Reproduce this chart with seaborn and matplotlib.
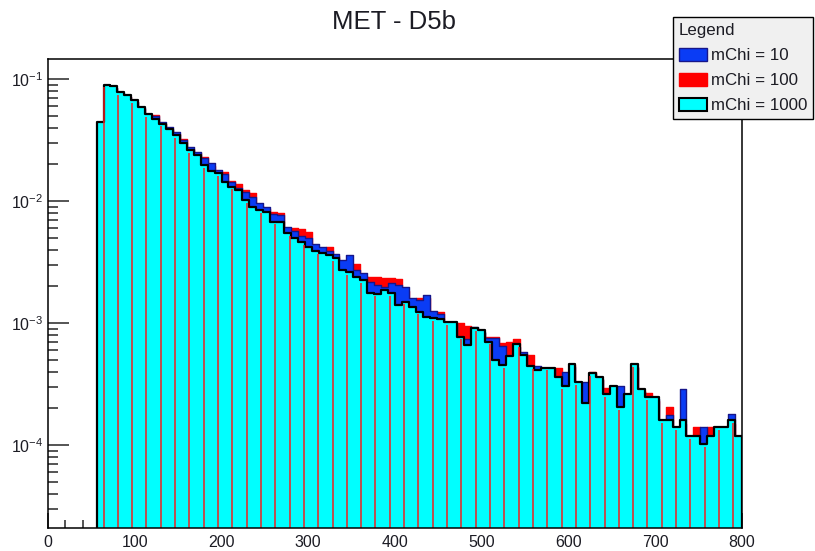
import numpy as np
import matplotlib
matplotlib.use("Agg")
import matplotlib.pyplot as plt
import seaborn as sns
from matplotlib.patches import Patch
from matplotlib.ticker import FixedLocator, NullFormatter, FuncFormatter

# ---- histogram data: MET, 8 GeV bins from 56 to 800 ----
bin_edges = list(range(56, 801, 8))
met_centers = [e + 4 for e in bin_edges[:-1]]

mchi10 = [
    0.0431, 0.0871, 0.0850, 0.0765, 0.0718, 0.0652, 0.0575, 0.0508, 0.0495, 0.0444,
    0.0404, 0.0368, 0.0316, 0.0277, 0.0252, 0.0225, 0.0204, 0.0179, 0.0166, 0.0143,
    0.0128, 0.0119, 0.0108, 0.00963, 0.00893, 0.00782, 0.00768, 0.00612, 0.00568, 0.00516,
    0.00497, 0.00444, 0.00420, 0.00389, 0.00368, 0.00328, 0.00361, 0.00272, 0.00257, 0.00218,
    0.00205, 0.00197, 0.00213, 0.00205, 0.00197, 0.00160, 0.00154, 0.00170, 0.00125, 0.00119,
    0.00097, 0.00098, 0.00074, 0.000739, 0.000927, 0.00085, 0.000753, 0.000753, 0.000648, 0.00052,
    0.00064, 0.000582, 0.00043, 0.000444, 0.00041, 0.00042, 0.00035, 0.000399, 0.00044, 0.00032,
    0.000330, 0.00038, 0.00034, 0.00025, 0.00029, 0.000305, 0.00025, 0.00044, 0.00027, 0.00023,
    0.00024, 0.00015, 0.000176, 0.00013, 0.000288, 0.00011, 0.00011, 0.000141, 0.00011, 0.00013,
    0.00013, 0.000179, 0.00011,
]
mchi100 = [
    0.0425, 0.0860, 0.0840, 0.0760, 0.0712, 0.0648, 0.0570, 0.0505, 0.0507, 0.0425,
    0.0383, 0.0354, 0.0322, 0.0267, 0.0247, 0.0231, 0.0194, 0.0173, 0.0173, 0.0146,
    0.0138, 0.0123, 0.0116, 0.00910, 0.00860, 0.00812, 0.00797, 0.00589, 0.00601, 0.00589,
    0.00557, 0.00420, 0.00404, 0.00420, 0.00354, 0.00310, 0.00299, 0.00305, 0.00243, 0.00240,
    0.00238, 0.00234, 0.00234, 0.00229, 0.00183, 0.00151, 0.00160, 0.00160, 0.00123, 0.00123,
    0.00099, 0.00095, 0.00100, 0.000945, 0.00087, 0.00083, 0.000768, 0.000768, 0.000686, 0.000699,
    0.000739, 0.000557, 0.000547, 0.00040, 0.00042, 0.00041, 0.000425, 0.00029, 0.00045, 0.00031,
    0.00021, 0.000399, 0.00035, 0.000292, 0.00030, 0.00019, 0.00024, 0.00043, 0.00028, 0.000267,
    0.00023, 0.00015, 0.000205, 0.00013, 0.00015, 0.00011, 0.000141, 0.000139, 0.000141, 0.00013,
    0.00014, 0.00015, 0.00011,
]
mchi1000 = [
    0.0444, 0.0898, 0.0871, 0.0782, 0.0735, 0.0669, 0.0586, 0.0519, 0.0467, 0.0430,
    0.0387, 0.0346, 0.0300, 0.0260, 0.0237, 0.0197, 0.0177, 0.0169, 0.0142, 0.0131,
    0.0123, 0.0102, 0.00898, 0.00844, 0.00817, 0.00677, 0.00671, 0.00544, 0.00495, 0.00461,
    0.00420, 0.00389, 0.00375, 0.00358, 0.00341, 0.00272, 0.00263, 0.00240, 0.00225, 0.00175,
    0.00174, 0.00186, 0.00175, 0.00140, 0.00150, 0.00136, 0.00124, 0.00113, 0.00109, 0.00108,
    0.00102, 0.00102, 0.000772, 0.000660, 0.000905, 0.000876, 0.000703, 0.000497, 0.000452, 0.000536,
    0.000673, 0.000547, 0.000444, 0.000412, 0.000430, 0.000430, 0.000363, 0.000305, 0.000461, 0.000330,
    0.000220, 0.000391, 0.000359, 0.000262, 0.000305, 0.000204, 0.000262, 0.000461, 0.000286, 0.000246,
    0.000246, 0.000160, 0.000160, 0.000140, 0.000160, 0.000119, 0.000119, 0.000102, 0.000119, 0.000140,
    0.000140, 0.000160, 0.000119,
]

series_labels = ["mChi = 10", "mChi = 100", "mChi = 1000"]
title = "MET - D5b"
x_major = [0, 100, 200, 300, 400, 500, 600, 700, 800]
y_major = [1e-4, 1e-3, 1e-2, 1e-1]

# ---- style ----
sns.set_style("ticks")
plt.rcParams["font.family"] = ["Liberation Sans", "DejaVu Sans"]
plt.rcParams["mathtext.fontset"] = "custom"
plt.rcParams["mathtext.rm"] = "Liberation Sans"
plt.rcParams["mathtext.it"] = "Liberation Sans:italic"
plt.rcParams["mathtext.bf"] = "Liberation Sans:bold"

BLUE = "#0a3cf5"
BLUE_EDGE = "#16168a"
RED = "#ff0000"
CYAN = "#00ffff"
TXT = "#1c1c24"

W, H = 815, 551
fig = plt.figure(figsize=(W / 100, H / 100), dpi=100)
ax = fig.add_axes([48 / W, 1 - 528 / H, (742 - 48) / W, (528 - 59) / H])

# drawn back to front: mChi=100, mChi=10, mChi=1000
sns.histplot(x=met_centers, weights=mchi100, bins=bin_edges, element="step",
             fill=True, alpha=1, facecolor=RED, edgecolor=RED, linewidth=1.0,
             ax=ax, zorder=2)
sns.histplot(x=met_centers, weights=mchi10, bins=bin_edges, element="step",
             fill=True, alpha=1, facecolor=BLUE, edgecolor=BLUE_EDGE, linewidth=1.0,
             ax=ax, zorder=3)
sns.histplot(x=met_centers, weights=mchi1000, bins=bin_edges, element="step",
             fill=True, alpha=1, facecolor=CYAN, edgecolor="black", linewidth=1.6,
             ax=ax, zorder=4)

ax.set_yscale("log")
ax.set_xlim(0, 800)
ax.set_ylim(2.09e-5, 0.146)

# thin red stripes showing through the front histogram
stripe_x = np.arange(64, 800, 16.5)
idx = ((stripe_x - bin_edges[0]) // 8).astype(int)
stripe_top = np.asarray(mchi1000)[idx] * 0.95
ax.vlines(stripe_x, 2.09e-5, stripe_top, colors="#ee2222", linewidth=1.1, zorder=5)

# ---- axes, ticks ----
ax.set_xlabel("")
ax.set_ylabel("")
for s in ax.spines.values():
    s.set_linewidth(1.1)
    s.set_color("black")
    s.set_zorder(10)

ax.xaxis.set_major_locator(FixedLocator(x_major))
ax.xaxis.set_minor_locator(FixedLocator(np.arange(0, 801, 20)))
minor_y = [m * 10.0 ** e for e in range(-5, 0) for m in range(2, 10)]
ax.yaxis.set_major_locator(FixedLocator(y_major))
ax.yaxis.set_minor_locator(FixedLocator(minor_y))
ax.yaxis.set_minor_formatter(NullFormatter())
ax.yaxis.set_major_formatter(FuncFormatter(lambda v, p: r"$10^{%d}$" % int(round(np.log10(v)))))

ax.tick_params(axis="x", which="major", direction="in", length=11, width=1.1,
               labelsize=11.5, pad=5, labelcolor=TXT, top=False)
ax.tick_params(axis="x", which="minor", direction="in", length=5.5, width=1.1, top=False)
ax.tick_params(axis="y", which="major", direction="in", length=15, width=1.1,
               labelsize=11.5, pad=3.5, labelcolor=TXT, right=False)
ax.tick_params(axis="y", which="minor", direction="in", length=7.5, width=1.1, right=False)
for t in ax.xaxis.get_major_ticks() + ax.xaxis.get_minor_ticks() + \
        ax.yaxis.get_major_ticks() + ax.yaxis.get_minor_ticks():
    t.tick1line.set_zorder(11)

# ---- title ----
fig.text(394 / W, 1 - 29 / H, title, ha="center", va="baseline",
         fontsize=18.5, color=TXT)

# ---- legend ----
handles = [
    Patch(facecolor=BLUE, edgecolor=BLUE_EDGE, linewidth=1.0),
    Patch(facecolor=RED, edgecolor=RED, linewidth=1.0),
    Patch(facecolor=CYAN, edgecolor="black", linewidth=1.5),
]
leg = fig.legend(handles, series_labels, title="Legend", loc="upper left",
                 bbox_to_anchor=(673 / W, 1 - 17 / H), bbox_transform=fig.transFigure,
                 fontsize=12.2, title_fontsize=12.2, alignment="left",
                 frameon=True, fancybox=False, framealpha=1, facecolor="#f0f0f0",
                 edgecolor="black", borderpad=0.35, borderaxespad=0,
                 handlelength=1.65, handleheight=0.78, handletextpad=0.25,
                 labelspacing=0.58)
leg.get_frame().set_linewidth(1.0)
for t in leg.get_texts():
    t.set_color(TXT)
leg.get_title().set_color(TXT)

fig.savefig("out.png", dpi=100, facecolor="white")
